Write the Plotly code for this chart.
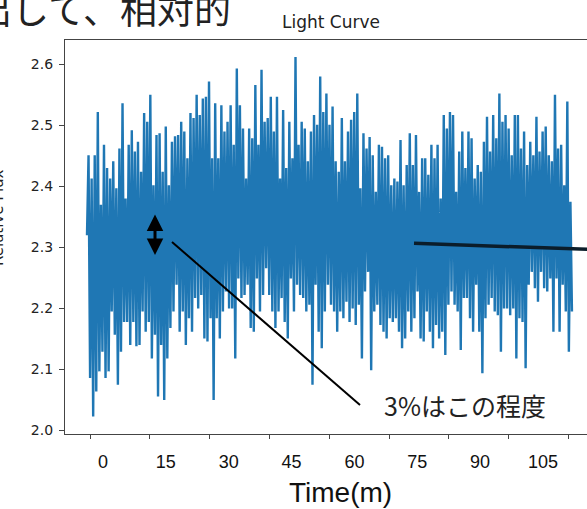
import numpy as np
import plotly.graph_objects as go

# ---------------- data ----------------
first_flux = [2.32]
seg1_high = [2.451, 2.413, 2.451, 2.522, 2.370, 2.468, 2.430, 2.413, 2.441, 2.397, 2.462, 2.536, 2.380, 2.468,
             2.492, 2.457, 2.473, 2.424, 2.520, 2.506, 2.550, 2.402, 2.484, 2.487, 2.424, 2.498, 2.402, 2.473,
             2.482, 2.484, 2.506, 2.490, 2.446, 2.520, 2.512, 2.550, 2.517, 2.544, 2.547, 2.572, 2.446, 2.536]
seg1_low = [2.086, 2.023, 2.064, 2.097, 2.129, 2.086, 2.097, 2.195, 2.157, 2.075, 2.129, 2.178, 2.178, 2.140,
            2.178, 2.138, 2.140, 2.195, 2.162, 2.178, 2.118, 2.157, 2.056, 2.140, 2.050, 2.118, 2.168, 2.195,
            2.239, 2.162, 2.195, 2.140, 2.184, 2.162, 2.217, 2.200, 2.222, 2.151, 2.146, 2.184, 2.050, 2.184]
seg2_high = [2.446, 2.533, 2.490, 2.506, 2.533, 2.468, 2.593, 2.533, 2.495, 2.413, 2.495, 2.479, 2.566, 2.468,
             2.591, 2.506, 2.512, 2.547, 2.490, 2.547, 2.413, 2.525, 2.430, 2.506, 2.446, 2.612, 2.468, 2.506,
             2.495, 2.441, 2.490, 2.517, 2.501, 2.580, 2.522, 2.552, 2.501, 2.531, 2.441, 2.424, 2.512, 2.441]
seg2_low = [2.151, 2.195, 2.228, 2.200, 2.200, 2.118, 2.249, 2.217, 2.222, 2.239, 2.168, 2.162, 2.249, 2.195,
            2.222, 2.266, 2.222, 2.195, 2.168, 2.195, 2.217, 2.178, 2.151, 2.249, 2.195, 2.239, 2.222, 2.217,
            2.195, 2.206, 2.075, 2.239, 2.162, 2.135, 2.195, 2.239, 2.206, 2.195, 2.162, 2.195, 2.184, 2.211]
seg3_high = [2.490, 2.509, 2.522, 2.552, 2.397, 2.487, 2.462, 2.481, 2.451, 2.391, 2.468, 2.465, 2.446, 2.451,
             2.402, 2.413, 2.408, 2.476, 2.402, 2.435, 2.487, 2.435, 2.484, 2.391, 2.446, 2.446, 2.419, 2.468,
             2.446, 2.468, 2.380, 2.517, 2.495, 2.522, 2.517, 2.391, 2.457, 2.490]
seg3_low = [2.178, 2.200, 2.173, 2.206, 2.118, 2.228, 2.260, 2.099, 2.195, 2.206, 2.173, 2.162, 2.151, 2.184,
            2.178, 2.184, 2.162, 2.135, 2.151, 2.195, 2.162, 2.184, 2.228, 2.151, 2.146, 2.195, 2.162, 2.135,
            2.173, 2.151, 2.162, 2.124, 2.206, 2.228, 2.206, 2.195, 2.132, 2.217]
seg4_high = [2.430, 2.490, 2.479, 2.413, 2.435, 2.424, 2.473, 2.514, 2.457, 2.517, 2.479, 2.552, 2.506, 2.517,
             2.495, 2.451, 2.517, 2.517, 2.462, 2.490, 2.435, 2.473, 2.451, 2.514, 2.457, 2.490, 2.498, 2.451,
             2.441, 2.550, 2.462, 2.468, 2.402, 2.539, 2.375]
seg4_low = [2.217, 2.184, 2.162, 2.239, 2.162, 2.094, 2.184, 2.206, 2.217, 2.195, 2.189, 2.129, 2.200, 2.200,
            2.189, 2.200, 2.118, 2.184, 2.178, 2.102, 2.239, 2.260, 2.233, 2.211, 2.260, 2.233, 2.228, 2.249,
            2.162, 2.249, 2.162, 2.239, 2.195, 2.129, 2.195]

t_start_min = -3.82     # first sample (minutes)
t_end_min = 111.92      # last sample (minutes)

x_tick_labels = ["0", "15", "30", "45", "60", "75", "90", "105"]
x_label_vals = [0, 15, 30, 45, 60, 75, 90, 105]
y_tick_vals = [2.0, 2.1, 2.2, 2.3, 2.4, 2.5, 2.6]

# ---------------- assemble series ----------------
flux = list(first_flux)
for hi, lo in [(seg1_high, seg1_low), (seg2_high, seg2_low), (seg3_high, seg3_low), (seg4_high, seg4_low)]:
    for h, l in zip(hi, lo):
        flux.append(h)
        flux.append(l)
flux = np.array(flux)
time_min = np.linspace(t_start_min, t_end_min, len(flux))

# ---------------- layout geometry ----------------
W, H = 587, 509
L, R, T, B = 65, 0, 40, 75
pw, ph = W - L - R, H - T - B
x_range = [-9.07, 115.51]
y_range = [1.9944, 2.6398]
# tick-mark positions of the underlying plot (minutes)
x_tick_marks = [-3.10, 11.17, 25.44, 39.71, 53.98, 68.26, 82.53, 96.80, 111.07]


def px_to_paper_x(px):
    return (px - L) / pw


def px_to_paper_y(py):
    return 1 - (py - T) / ph


def px_to_x(px):
    return x_range[0] + (px - L) / pw * (x_range[1] - x_range[0])


def px_to_y(py):
    return y_range[1] - (py - T) / ph * (y_range[1] - y_range[0])


fig = go.Figure()
fig.add_trace(go.Scatter(x=time_min, y=flux, mode="lines",
                         line=dict(color="#1f77b4", width=2.4, simplify=False), showlegend=False,
                         hoverinfo="skip"))
# invisible helper trace so the label axis is drawn
fig.add_trace(go.Scatter(x=[x_range[0]], y=[y_range[0]], xaxis="x2", mode="markers",
                         marker=dict(opacity=0), showlegend=False, hoverinfo="skip"))

axis_color = "#444444"
fig.update_layout(
    width=W, height=H,
    margin=dict(l=L, r=R, t=T, b=B, autoexpand=False),
    paper_bgcolor="white", plot_bgcolor="white",
    title=dict(text="Light Curve", x=px_to_paper_x(331), xref="paper", xanchor="center",
               y=1 - 22 / H, yanchor="middle",
               font=dict(family="DejaVu Sans", size=17, color="#222")),
    xaxis=dict(range=x_range, showgrid=False, zeroline=False, showline=True, linecolor=axis_color,
               linewidth=1.2, mirror=True, ticks="outside", ticklen=4, tickcolor=axis_color,
               tickvals=x_tick_marks, showticklabels=False),
    xaxis2=dict(range=x_range, overlaying="x", anchor="y", side="bottom", showgrid=False,
                zeroline=False, showline=False, ticks="", tickvals=x_label_vals,
                ticktext=x_tick_labels, ticklabelstandoff=15,
                tickfont=dict(family="Liberation Sans", size=18, color="#111")),
    yaxis=dict(range=y_range, showgrid=False, zeroline=False, showline=True, linecolor=axis_color,
               linewidth=1.2, mirror=False, ticks="outside", ticklen=5, tickcolor=axis_color,
               tickvals=y_tick_vals, tickformat=".1f", ticklabelstandoff=3,
               tickfont=dict(family="DejaVu Sans", size=14, color="#222")),
)

# axis titles (overlaid text)
fig.add_annotation(text="Time(m)", xref="paper", yref="paper", x=px_to_paper_x(340),
                   y=px_to_paper_y(492), xanchor="center", yanchor="middle", showarrow=False,
                   font=dict(family="Liberation Sans", size=28, color="#111"))
fig.add_annotation(text="Relative Flux", xref="paper", yref="paper", x=px_to_paper_x(-2),
                   y=px_to_paper_y(218), xanchor="center", yanchor="middle", showarrow=False,
                   textangle=-90, font=dict(family="DejaVu Sans", size=15, color="#222"))

# slide text at top-left (partly cut off)
fig.add_annotation(text="出して、相対的", xref="paper", yref="paper", x=px_to_paper_x(233),
                   y=px_to_paper_y(8), xanchor="right", yanchor="middle", showarrow=False,
                   font=dict(family="Noto Sans CJK JP", size=37, color="#222"))

# double-headed arrow
fig.add_annotation(x=px_to_x(155), y=px_to_y(255), ax=px_to_x(155), ay=px_to_y(213),
                   xref="x", yref="y", axref="x", ayref="y", text="", showarrow=True,
                   arrowside="end+start", arrowhead=2, arrowsize=1.1, arrowwidth=3,
                   arrowcolor="black", standoff=0, startstandoff=0)

# pointer lines
fig.add_shape(type="line", xref="x", yref="y", x0=px_to_x(172), y0=px_to_y(242),
              x1=px_to_x(360), y1=px_to_y(405), line=dict(color="black", width=2))
fig.add_shape(type="line", xref="x", yref="y", x0=px_to_x(414), y0=px_to_y(243.3),
              x1=px_to_x(600), y1=px_to_y(249.8), line=dict(color="#0b1d2a", width=3.5))

fig.add_annotation(text="3%はこの程度", xref="paper", yref="paper", x=px_to_paper_x(465),
                   y=px_to_paper_y(405), xanchor="center", yanchor="middle", showarrow=False,
                   font=dict(family="Noto Sans CJK JP", size=25, color="#222"))

fig.write_html("out.html", config={"displayModeBar": False},
               post_script="document.body.style.margin='0';document.body.style.overflow='hidden';")
